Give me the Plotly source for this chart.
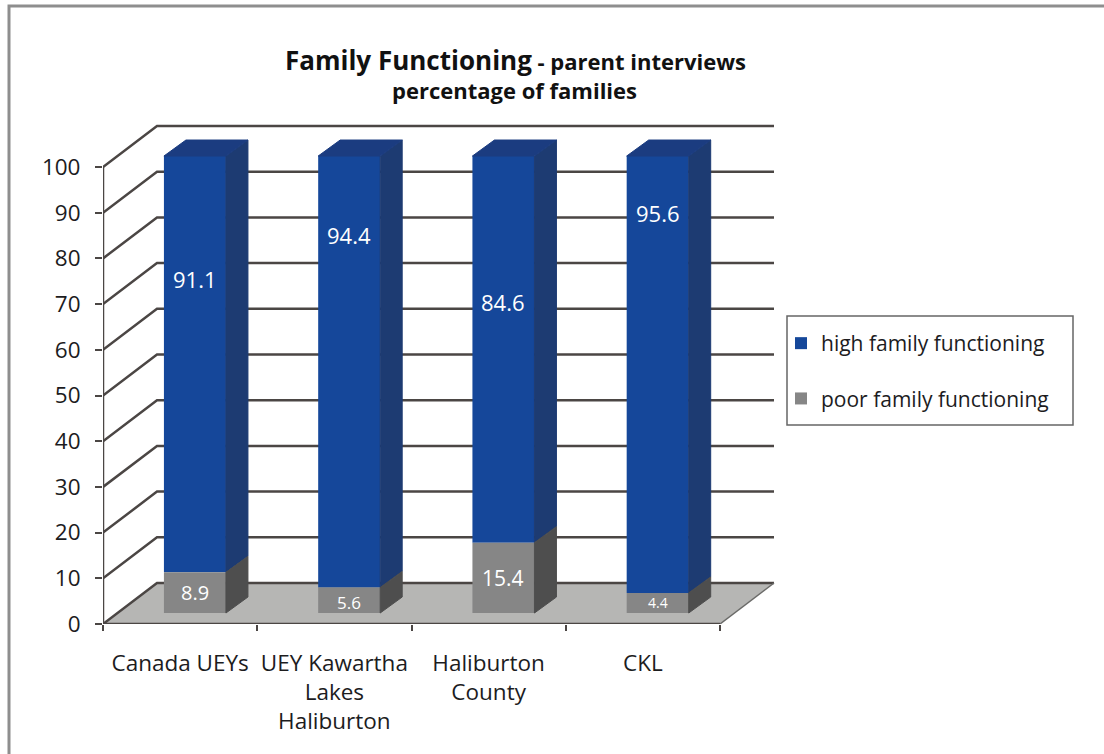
import plotly.graph_objects as go

categories = ["Canada UEYs", "UEY Kawartha<br>Lakes<br>Haliburton", "Haliburton<br>County", "CKL"]
high_family = [91.1, 94.4, 84.6, 95.6]
poor_family = [8.9, 5.6, 15.4, 4.4]
high_name = "high family functioning"
poor_name = "poor family functioning"
y_ticks = list(range(0, 101, 10))

# pixel geometry of the frame
W, H = 1104, 754
X0, PXU = 103, 154.25          # pixel of category 0, pixels per category
Y0, PYU = 624, 4.57            # pixel of value 0, pixels per value unit
XR, YT = 785, 115              # right and top of plot area
WALL_DX, WALL_DY = 54 / PXU, 41 / PYU   # depth of the box in data units
BAR_LEFT, BAR_W = 0.395, 0.402
BAR_BASE = 2.4
SIDE_DX, SIDE_DY = 22 / PXU, 16 / PYU

FONT = "Open Sans"
INK = "#1c1c1e"
GRID = "#4b4644"
BLUE, BLUE_SIDE, BLUE_TOP = "#15479a", "#1d3b72", "#1b3c80"
GRAY, GRAY_SIDE = "#868686", "#4e4e4e"

n = len(categories)
xs = [i + BAR_LEFT + BAR_W / 2 for i in range(n)]
fig = go.Figure()

def faces(bases, tops):
    px, py = [], []
    for x, b, t in zip(xs, bases, tops):
        r = x + BAR_W / 2
        px += [r, r + SIDE_DX, r + SIDE_DX, r, r, None]
        py += [b, b + SIDE_DY, t + SIDE_DY, t, b, None]
    return px, py

base_poor = [BAR_BASE] * n
top_poor = [BAR_BASE + v for v in poor_family]
top_high = [p + v for p, v in zip(top_poor, high_family)]

fig.add_bar(x=xs, y=high_family, base=top_poor, width=BAR_W, name=high_name, legendgroup="a",
            marker=dict(color=BLUE, line=dict(width=0)))
fig.add_bar(x=xs, y=poor_family, base=base_poor, width=BAR_W, name=poor_name, legendgroup="b",
            marker=dict(color=GRAY, line=dict(width=0)))

sx, sy = faces(top_poor, top_high)
fig.add_scatter(x=sx, y=sy, mode="lines", fill="toself", fillcolor=BLUE_SIDE,
                line=dict(color=BLUE_SIDE, width=1), showlegend=False, hoverinfo="skip")
sx, sy = faces(base_poor, top_poor)
fig.add_scatter(x=sx, y=sy, mode="lines", fill="toself", fillcolor=GRAY_SIDE,
                line=dict(color=GRAY_SIDE, width=1), showlegend=False, hoverinfo="skip")
tx, ty = [], []
for x, t in zip(xs, top_high):
    l, r = x - BAR_W / 2, x + BAR_W / 2
    tx += [l, r, r + SIDE_DX, l + SIDE_DX, l, None]
    ty += [t, t, t + SIDE_DY, t + SIDE_DY, t, None]
fig.add_scatter(x=tx, y=ty, mode="lines", fill="toself", fillcolor=BLUE_TOP,
                line=dict(color=BLUE_TOP, width=1), showlegend=False, hoverinfo="skip")

# box: floor, side wall lines, back wall lines, all beneath the bars
shapes = []
shapes.append(dict(type="path", layer="below", xref="x", yref="y",
                   path=f"M0,0 L{n},0 L{n + WALL_DX},{WALL_DY} L{WALL_DX},{WALL_DY} Z",
                   fillcolor="#b6b6b4", line=dict(width=0)))
for v in y_ticks:
    shapes.append(dict(type="path", layer="below", xref="x", yref="y",
                       path=f"M0,{v} L{WALL_DX},{v + WALL_DY} L{n + WALL_DX},{v + WALL_DY}",
                       line=dict(color=GRID, width=2.5)))
shapes.append(dict(type="path", layer="below", xref="x", yref="y",
                   path=f"M{n},0 L{n + WALL_DX},{WALL_DY}", line=dict(color="#6a6a68", width=1.5)))
shapes.append(dict(type="path", layer="below", xref="x", yref="y",
                   path="M0,0 L0,100", line=dict(color=GRID, width=2.5)))
shapes.append(dict(type="path", layer="below", xref="x", yref="y",
                   path=f"M0,0 L{n},0", line=dict(color=GRID, width=2.5)))
# outer page frame: left and top edges only
pw, ph = XR - X0, Y0 - YT
def fx(p): return (p - X0) / pw
def fy(p): return (Y0 - p) / ph
shapes.insert(0, dict(type="path", layer="below", xref="paper", yref="paper",
                      path=f"M{fx(9)},{fy(760)} L{fx(9)},{fy(6)} L{fx(1110)},{fy(6)}",
                      line=dict(color="#8e8e8e", width=3)))
# legend box
shapes.append(dict(type="rect", layer="above", xref="paper", yref="paper",
                   x0=fx(787), x1=fx(1073), y0=fy(316), y1=fy(425),
                   line=dict(color="#666666", width=1.5)))

annotations = []
# data labels sit where the reference places them, not at bar centres
high_label_pos = [75.5, 85.2, 70.5, 90]
poor_label_pos = [6.8, 4.8, 10, 4.6]
poor_label_size = [20, 17, 21, 14]
for x, v, p in zip(xs, high_family, high_label_pos):
    annotations.append(dict(x=x, y=p, xref="x", yref="y", text=f"{v}", showarrow=False,
                            font=dict(family=FONT, size=22, color="white")))
for x, v, p, s in zip(xs, poor_family, poor_label_pos, poor_label_size):
    annotations.append(dict(x=x, y=p, xref="x", yref="y", text=f"{v}", showarrow=False,
                            font=dict(family=FONT, size=s, color="white")))
annotations.append(dict(xref="paper", yref="paper", x=fx(515), y=fy(60), yanchor="middle",
                        text="<b><span style='font-size:26px'>Family Functioning</span>"
                             "<span style='font-size:22px'> - parent interviews</span></b>",
                        showarrow=False, font=dict(family=FONT, color="#111111")))
annotations.append(dict(xref="paper", yref="paper", x=fx(514), y=fy(90), yanchor="middle",
                        text="<b>percentage of families</b>", showarrow=False,
                        font=dict(family=FONT, size=22, color="#111111")))

fig.update_layout(
    width=W, height=H, autosize=False,
    margin=dict(l=X0, r=W - XR, t=YT, b=H - Y0, pad=0),
    paper_bgcolor="white", plot_bgcolor="rgba(0,0,0,0)",
    barmode="overlay", shapes=shapes, annotations=annotations,
    font=dict(family=FONT, color=INK, size=22.5),
    hovermode=False,
    xaxis=dict(range=[0, (XR - X0) / PXU], tickmode="array",
               tickvals=[i + 0.5 for i in range(n)], ticktext=categories,
               ticks="", ticklabelstandoff=23, showgrid=False, zeroline=False, showline=False,
               minor=dict(tickmode="array", tickvals=list(range(n + 1)), ticks="outside",
                          ticklen=6, tickwidth=2, tickcolor=GRID, showgrid=False)),
    yaxis=dict(range=[0, (Y0 - YT) / PYU], tickmode="array", tickvals=y_ticks,
               ticks="outside", ticklen=7, tickwidth=2, tickcolor=GRID, ticklabelstandoff=10,
               showgrid=False, zeroline=False, showline=False),
    legend=dict(x=fx(787), y=fy(323), xanchor="left", yanchor="top", bgcolor="rgba(0,0,0,0)",
                borderwidth=0, traceorder="grouped", tracegroupgap=25, indentation=-6,
                itemclick=False, itemdoubleclick=False,
                font=dict(family=FONT, size=21, color=INK)),
)

fig.write_html("out.html", config={"displayModeBar": False},
               post_script="document.body.style.margin='0';document.documentElement.style.overflow='hidden';window.dispatchEvent(new Event('resize'));")
